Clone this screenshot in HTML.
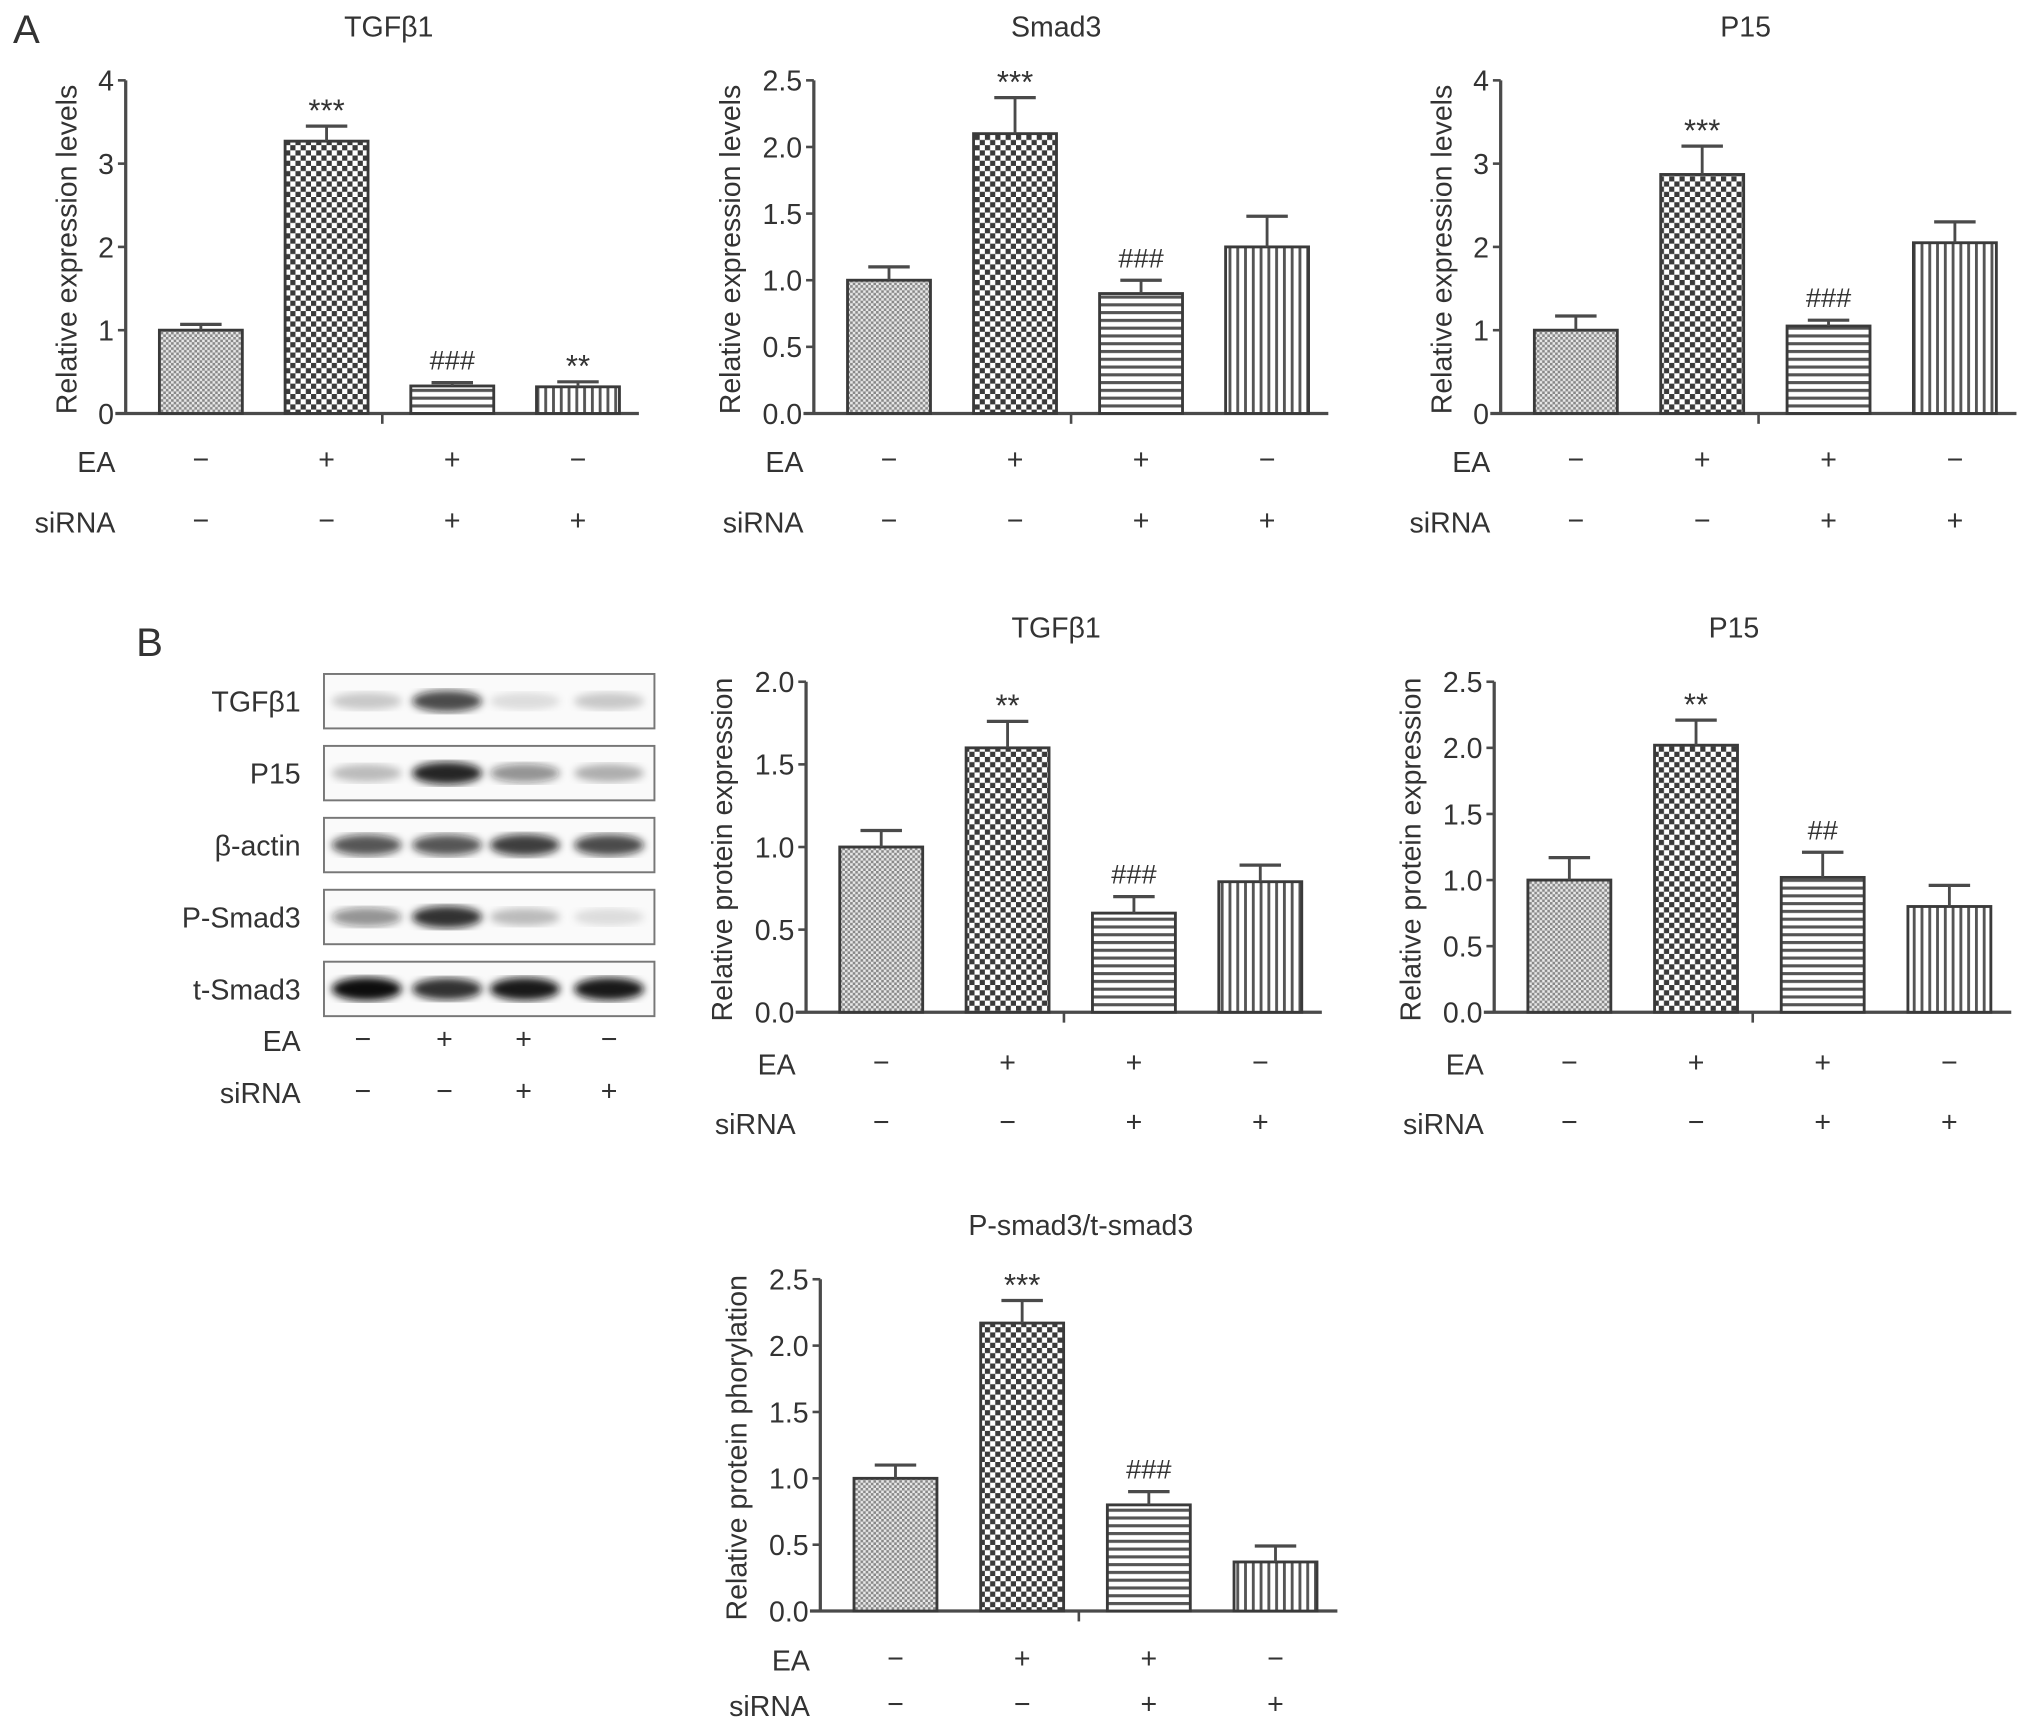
<!DOCTYPE html>
<html><head><meta charset="utf-8"><style>
html,body{margin:0;padding:0;background:#fff}
svg{display:block}
text{font-family:"Liberation Sans",sans-serif;fill:#333}
</style></head><body>
<svg id="fig" width="2032" height="1729" viewBox="0 0 1568 1334" preserveAspectRatio="none" xmlns="http://www.w3.org/2000/svg">
<defs>
<pattern id="p0" width="4" height="4" patternUnits="userSpaceOnUse"><rect width="4" height="4" fill="#e8e8e8"/><rect width="2" height="2" fill="#888"/><rect x="2" y="2" width="2" height="2" fill="#888"/></pattern>
<pattern id="p1" width="8" height="8" patternUnits="userSpaceOnUse"><rect width="8" height="8" fill="#fff"/><rect width="4" height="4" fill="#3a3a3a"/><rect x="4" y="4" width="4" height="4" fill="#3a3a3a"/></pattern>
<pattern id="p2" width="8" height="6" patternUnits="userSpaceOnUse"><rect width="8" height="6" fill="#fff"/><rect width="8" height="2.4" fill="#555"/></pattern>
<pattern id="p3" width="6" height="8" patternUnits="userSpaceOnUse"><rect width="6" height="8" fill="#fff"/><rect width="2.2" height="8" fill="#555"/></pattern>
<filter id="blur"><feGaussianBlur stdDeviation="3"/></filter>
</defs>
<text x="10" y="33" font-size="31">A</text>
<text x="105" y="506" font-size="31">B</text>
<g id="charts"></g>
<g id="blot"></g>
</svg>
<script>
const NS = "http://www.w3.org/2000/svg";
const categories = ["control", "EA", "EA+siRNA", "siRNA"];
const eaSigns = ["−", "+", "+", "−"];
const siSigns = ["−", "−", "+", "+"];

const tgfMrnaValues = [1.0, 3.27, 0.33, 0.32];
const tgfMrnaErrors = [0.07, 0.18, 0.04, 0.06];
const tgfMrnaMarks = ["", "***", "###", "**"];
const tgfMrnaTicks = ["0", "1", "2", "3", "4"];

const smadMrnaValues = [1.0, 2.1, 0.9, 1.25];
const smadMrnaErrors = [0.1, 0.27, 0.1, 0.23];
const smadMrnaMarks = ["", "***", "###", ""];
const smadMrnaTicks = ["0.0", "0.5", "1.0", "1.5", "2.0", "2.5"];

const p15MrnaValues = [1.0, 2.87, 1.05, 2.05];
const p15MrnaErrors = [0.17, 0.34, 0.07, 0.25];
const p15MrnaMarks = ["", "***", "###", ""];
const p15MrnaTicks = ["0", "1", "2", "3", "4"];

const tgfProtValues = [1.0, 1.6, 0.6, 0.79];
const tgfProtErrors = [0.1, 0.16, 0.1, 0.1];
const tgfProtMarks = ["", "**", "###", ""];
const tgfProtTicks = ["0.0", "0.5", "1.0", "1.5", "2.0"];

const p15ProtValues = [1.0, 2.02, 1.02, 0.8];
const p15ProtErrors = [0.17, 0.19, 0.19, 0.16];
const p15ProtMarks = ["", "**", "##", ""];
const p15ProtTicks = ["0.0", "0.5", "1.0", "1.5", "2.0", "2.5"];

const phosValues = [1.0, 2.17, 0.8, 0.37];
const phosErrors = [0.1, 0.17, 0.1, 0.12];
const phosMarks = ["", "***", "###", ""];
const phosTicks = ["0.0", "0.5", "1.0", "1.5", "2.0", "2.5"];

const blotRows = ["TGFβ1", "P15", "β-actin", "P-Smad3", "t-Smad3"];
const blotIntensity = [
  [0.2, 0.75, 0.12, 0.2],
  [0.25, 0.9, 0.45, 0.3],
  [0.7, 0.7, 0.8, 0.75],
  [0.45, 0.85, 0.25, 0.12],
  [1.0, 0.85, 0.95, 0.95]
];

function el(tag, attrs, parent) {
  const e = document.createElementNS(NS, tag);
  for (const k in attrs) e.setAttribute(k, attrs[k]);
  parent.appendChild(e);
  return e;
}
const root = document.getElementById("charts");
const pats = ["url(#p0)", "url(#p1)", "url(#p2)", "url(#p3)"];

function chart(cfg) {
  const g = el("g", {}, root);
  
  
  const max = parseFloat(cfg.ticks[cfg.ticks.length - 1]);
  const yS = v => cfg.y0 - (v / max) * (cfg.y0 - cfg.yTop);
  const step = (cfg.xEnd - cfg.ax - 8) / 4;
  const xS = i => cfg.ax + 58 + i * step;
  const c = "#4a4a4a";
  const t = el("text", {x: cfg.titleX, y: cfg.yTop - 34, "font-size": 22, "text-anchor": "middle"}, g);
  t.textContent = cfg.title;
  
  
  const yl = el("text", {transform: `translate(${cfg.ax - cfg.ylOff},${(cfg.y0 + cfg.yTop) / 2 + 2}) rotate(-90)`, "font-size": 22, "text-anchor": "middle"}, g);
  yl.textContent = cfg.ylabel;
  
  
  const ya = el("line", {x1: cfg.ax, x2: cfg.ax, y1: cfg.yTop, y2: cfg.y0, stroke: c, "stroke-width": 2.5}, g);
  
  
  const xa = el("line", {x1: cfg.ax - 8, x2: cfg.xEnd, y1: cfg.y0, y2: cfg.y0, stroke: c, "stroke-width": 2.5}, g);
  
  
  el("line", {x1: (cfg.ax + cfg.xEnd) / 2, x2: (cfg.ax + cfg.xEnd) / 2, y1: cfg.y0, y2: cfg.y0 + 8, stroke: c, "stroke-width": 2}, g);
  cfg.ticks.forEach(tk => {
    const y = yS(parseFloat(tk));
    el("line", {x1: cfg.ax - 6, x2: cfg.ax, y1: y, y2: y, stroke: c, "stroke-width": 2}, g);
    const tt = el("text", {x: cfg.ax - 9, y: y + 8, "font-size": 22, "text-anchor": "end"}, g);
    tt.textContent = tk;
    
    
  });
  cfg.values.forEach((v, i) => {
    const x = xS(i), w = 64, top = yS(v), eTop = yS(v + cfg.errors[i]);
    const r = el("rect", {x: x - w / 2, y: top, width: w, height: cfg.y0 - top, fill: pats[i], stroke: "#3a3a3a", "stroke-width": 2.2}, g);
    
    
    el("line", {x1: x, x2: x, y1: top, y2: eTop, stroke: c, "stroke-width": 2.2}, g);
    el("line", {x1: x - 16, x2: x + 16, y1: eTop, y2: eTop, stroke: c, "stroke-width": 2.5}, g);
    if (cfg.marks[i]) {
      const isHash = cfg.marks[i][0] === "#";
      const m = el("text", {x: x, y: isHash ? eTop - 10 : eTop - 4, "font-size": isHash ? 21 : 24, "text-anchor": "middle"}, g);
      m.textContent = cfg.marks[i];
      
      
    }
    const a = el("text", {x: x, y: cfg.eaY + 7, "font-size": 22, "text-anchor": "middle"}, g);
    a.textContent = eaSigns[i];
    const s = el("text", {x: x, y: cfg.siY + 7, "font-size": 22, "text-anchor": "middle"}, g);
    s.textContent = siSigns[i];
  });
  const ea = el("text", {x: cfg.ax - 8, y: cfg.eaY + 9, "font-size": 22, "text-anchor": "end"}, g);
  ea.textContent = "EA";
  
  
  const si = el("text", {x: cfg.ax - 8, y: cfg.siY + 9, "font-size": 22, "text-anchor": "end"}, g);
  si.textContent = "siRNA";
  
  
}

chart({name: "tgfb1-mrna-chart", title: "TGFβ1", titleX: 300, ylOff: 38, ylabel: "Relative expression levels", ax: 97, xEnd: 493, yTop: 62, y0: 319, eaY: 355, siY: 402, values: tgfMrnaValues, errors: tgfMrnaErrors, marks: tgfMrnaMarks, ticks: tgfMrnaTicks});
chart({name: "smad3-mrna-chart", title: "Smad3", titleX: 815, ylOff: 57, ylabel: "Relative expression levels", ax: 628, xEnd: 1025, yTop: 62, y0: 319, eaY: 355, siY: 402, values: smadMrnaValues, errors: smadMrnaErrors, marks: smadMrnaMarks, ticks: smadMrnaTicks});
chart({name: "p15-mrna-chart", title: "P15", titleX: 1347, ylOff: 38, ylabel: "Relative expression levels", ax: 1158, xEnd: 1556, yTop: 62, y0: 319, eaY: 355, siY: 402, values: p15MrnaValues, errors: p15MrnaErrors, marks: p15MrnaMarks, ticks: p15MrnaTicks});
chart({name: "tgfb1-protein-chart", title: "TGFβ1", titleX: 815, ylOff: 57, ylabel: "Relative protein expression", ax: 622, xEnd: 1020, yTop: 526, y0: 781, eaY: 820, siY: 866, values: tgfProtValues, errors: tgfProtErrors, marks: tgfProtMarks, ticks: tgfProtTicks});
chart({name: "p15-protein-chart", title: "P15", titleX: 1338, ylOff: 57, ylabel: "Relative protein expression", ax: 1153, xEnd: 1552, yTop: 526, y0: 781, eaY: 820, siY: 866, values: p15ProtValues, errors: p15ProtErrors, marks: p15ProtMarks, ticks: p15ProtTicks});
chart({name: "phospho-smad3-chart", title: "P-smad3/t-smad3", titleX: 834, ylOff: 57, ylabel: "Relative protein phorylation", ax: 633, xEnd: 1032, yTop: 987, y0: 1243, eaY: 1280, siY: 1315, values: phosValues, errors: phosErrors, marks: phosMarks, ticks: phosTicks});

// western blot
const blot = document.getElementById("blot");
const laneX = [283, 345, 405, 470];
blotRows.forEach((nm, r) => {
  const top = 520 + r * 55.5;
  const bx = el("rect", {x: 250, y: top, width: 255, height: 42, fill: "#fafafa", stroke: "#777", "stroke-width": 1.5}, blot);
  
  
  blotIntensity[r].forEach((v, i) => {
    const b = el("ellipse", {cx: laneX[i], cy: top + 21, rx: 27, ry: 6 + 3 * v, fill: "#111", "fill-opacity": v, filter: "url(#blur)"}, blot);
    
    
  });
  const l = el("text", {x: 232, y: top + 29, "font-size": 22, "text-anchor": "end"}, blot);
  l.textContent = nm;
  
  
});
[["EA", eaSigns, 802], ["siRNA", siSigns, 842]].forEach(([lab, signs, y]) => {
  const l = el("text", {x: 232, y: y + 9, "font-size": 22, "text-anchor": "end"}, blot);
  l.textContent = lab;
  
  
  signs.forEach((s, i) => {
    const t = el("text", {x: laneX[i] - 3 + i, y: y + 7, "font-size": 22, "text-anchor": "middle"}, blot);
    t.textContent = s;
  });
});
</script>
</body></html>
